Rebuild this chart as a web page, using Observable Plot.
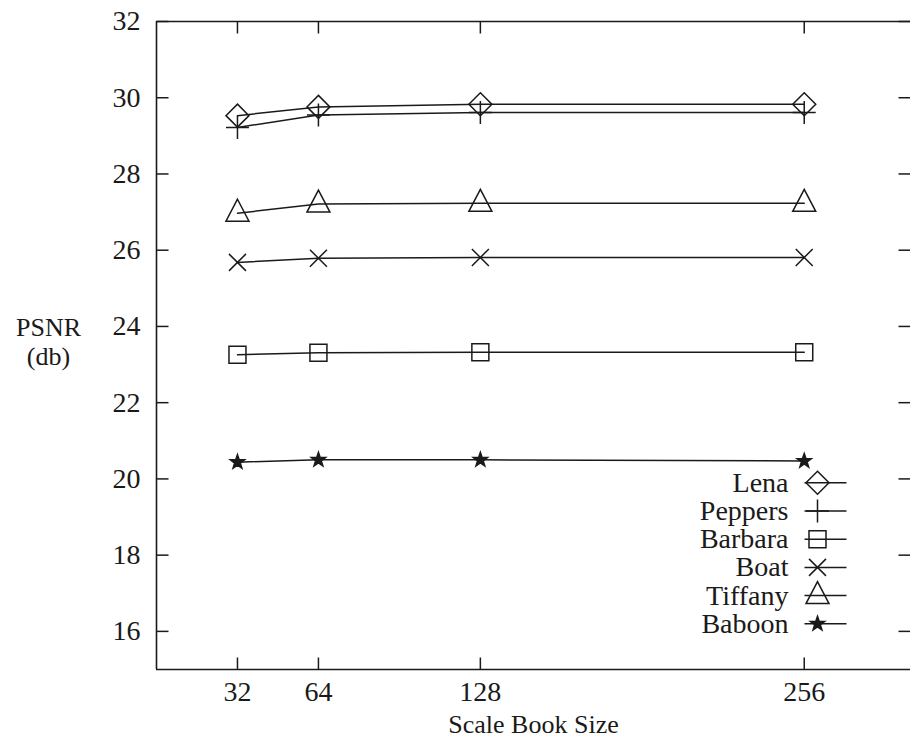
<!DOCTYPE html>
<html>
<head>
<meta charset="utf-8">
<script src="https://cdn.jsdelivr.net/npm/d3@7"></script>
<script src="https://cdn.jsdelivr.net/npm/@observablehq/plot@0.6"></script>
<style>
  html, body { margin: 0; padding: 0; background: #fff; overflow: hidden; }
  #chart svg, #chart svg text { font-family: "Liberation Serif", "DejaVu Serif", serif !important; }
</style>
</head>
<body>
<div id="chart"></div>
<script>
// ---- data ----
const sizes = [32, 64, 128, 256];
const seriesNames = ["Lena", "Peppers", "Barbara", "Boat", "Tiffany", "Baboon"];
const lena    = [29.53, 29.76, 29.83, 29.83];
const peppers = [29.22, 29.55, 29.61, 29.61];
const barbara = [23.26, 23.31, 23.32, 23.32];
const boat    = [25.68, 25.79, 25.81, 25.81];
const tiffany = [26.97, 27.21, 27.23, 27.23];
const baboon  = [20.44, 20.50, 20.50, 20.47];
const yTicks = [16, 18, 20, 22, 24, 26, 28, 30, 32];
const xTicks = [32, 64, 128, 256];

const valuesBySeries = {Lena: lena, Peppers: peppers, Barbara: barbara, Boat: boat, Tiffany: tiffany, Baboon: baboon};
const rows = seriesNames.flatMap(name => valuesBySeries[name].map((v, i) => ({series: name, size: sizes[i], psnr: v})));

// ---- marker symbols ----
const sym = fn => ({draw(ctx) { fn(ctx); }});
const symbols = {
  Lena: sym(c => { const r = 11.5; c.moveTo(0, -r); c.lineTo(r, 0); c.lineTo(0, r); c.lineTo(-r, 0); c.closePath(); }),
  Peppers: sym(c => { const r = 11.5; c.moveTo(0, -r); c.lineTo(0, r); c.moveTo(-r, 0); c.lineTo(r, 0); }),
  Barbara: sym(c => { const r = 8.5; c.moveTo(-r, -r); c.lineTo(r, -r); c.lineTo(r, r); c.lineTo(-r, r); c.closePath(); }),
  Boat: sym(c => { const r = 8.5; c.moveTo(-r, -r); c.lineTo(r, r); c.moveTo(-r, r); c.lineTo(r, -r); }),
  Tiffany: sym(c => { c.moveTo(0, -14); c.lineTo(11.5, 8); c.lineTo(-11.5, 8); c.closePath(); }),
  Baboon: sym(c => {
    const R = 7.5, r = 3;
    for (let k = 0; k < 10; k++) {
      const a = -Math.PI / 2 + k * Math.PI / 5, rr = k % 2 ? r : R;
      const px = rr * Math.cos(a), py = rr * Math.sin(a);
      k ? c.lineTo(px, py) : c.moveTo(px, py);
    }
    c.closePath();
  })
};
const filled = {Baboon: true};
const legendLine = sym(c => { c.moveTo(-13, 0); c.lineTo(29, 0); });
const tickLeft = sym(c => { c.moveTo(0, 0); c.lineTo(12, 0); });
const tickRight = sym(c => { c.moveTo(0, 0); c.lineTo(-12, 0); });
const tickBottom = sym(c => { c.moveTo(0, 0); c.lineTo(0, -12); });
const tickTop = sym(c => { c.moveTo(0, 0); c.lineTo(0, 12); });

const ink = "#1a1a1a";
const serif = "Liberation Serif, DejaVu Serif, serif";

const marks = [
  // frame (left, top, bottom)
  Plot.ruleX([0], {stroke: ink, strokeWidth: 1.6}),
  Plot.ruleY([15], {stroke: ink, strokeWidth: 1.6}),
  Plot.ruleY([32], {stroke: ink, strokeWidth: 1.6}),
  // inward ticks
  Plot.dot(yTicks, {y: d => d, frameAnchor: "left", symbol: tickLeft, stroke: ink, strokeWidth: 1.5, fill: "none"}),
  Plot.dot(yTicks, {y: d => d, frameAnchor: "right", symbol: tickRight, stroke: ink, strokeWidth: 1.5, fill: "none"}),
  Plot.dot(xTicks, {x: d => d, frameAnchor: "bottom", symbol: tickBottom, stroke: ink, strokeWidth: 1.5, fill: "none"}),
  Plot.dot(xTicks, {x: d => d, frameAnchor: "top", symbol: tickTop, stroke: ink, strokeWidth: 1.5, fill: "none"}),
  Plot.axisY({ticks: yTicks, tickSize: 0, tickPadding: 16, label: null, fontSize: 28, fontFamily: serif}),
  Plot.axisX({ticks: xTicks, tickSize: 0, tickPadding: 12, label: null, fontSize: 28, fontFamily: serif}),
  Plot.text(["Scale Book Size"], {frameAnchor: "bottom", lineAnchor: "middle", dy: 55, fontSize: 26, fontFamily: serif, fill: ink}),
  Plot.text(["PSNR\n(db)"], {frameAnchor: "left", lineAnchor: "middle", dx: -108, dy: -4, fontSize: 26, fontFamily: serif, lineHeight: 1.1, textAnchor: "middle", fill: ink}),
  // series lines
  Plot.line(rows, {x: "size", y: "psnr", z: "series", stroke: ink, strokeWidth: 1.5})
];

// markers
seriesNames.forEach(name => {
  marks.push(Plot.dot(rows.filter(d => d.series === name), {
    x: "size", y: "psnr", symbol: symbols[name],
    stroke: ink, strokeWidth: 1.5, fill: filled[name] ? ink : "none"
  }));
});

// legend (bottom-right inside frame)
seriesNames.forEach((name, i) => {
  const dy = -(45.7 + (seriesNames.length - 1 - i) * 28.2);
  marks.push(Plot.text([name], {frameAnchor: "bottom-right", lineAnchor: "middle", dx: -122, dy, textAnchor: "end", fontSize: 28, fontFamily: serif, fill: ink}));
  marks.push(Plot.dot([name], {frameAnchor: "bottom-right", dx: -93, dy, symbol: legendLine, stroke: ink, strokeWidth: 1.5, fill: "none"}));
  marks.push(Plot.dot([name], {frameAnchor: "bottom-right", dx: -93, dy, symbol: symbols[name], stroke: ink, strokeWidth: 1.5, fill: filled[name] ? ink : "none"}));
});

const chart = Plot.plot({
  width: 910,
  height: 740,
  marginLeft: 156,
  marginRight: 0,
  marginTop: 21,
  marginBottom: 71,
  x: {domain: [0, 298]},
  y: {domain: [15, 32]},
  style: {fontFamily: serif, fontSize: "28px", color: ink, background: "#fff"},
  marks
});
document.getElementById("chart").appendChild(chart);
</script>
</body>
</html>
